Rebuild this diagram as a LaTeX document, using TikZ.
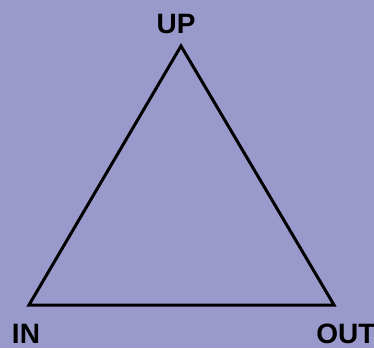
\documentclass[tikz,border=0pt]{standalone}
\usepackage{fontspec}
\setsansfont{Liberation Sans}
\usetikzlibrary{positioning}
\definecolor{bgLavender}{HTML}{9999CC}
\tikzset{
  corner label/.style={font=\sffamily\bfseries\fontsize{28}{28}\selectfont,
    text=black, inner sep=0pt},
  side/.style={line width=3pt, draw=black, line join=miter}
}
\begin{document}
\begin{tikzpicture}[x=1pt,y=1pt]
  \fill[bgLavender] (0,0) rectangle (374,348);
  \useasboundingbox (0,0) rectangle (374,348);
  % corners of the triangle
  \coordinate (up) at (181,302);
  \coordinate (in) at (29,43);
  \coordinate (out) at (334,43);
  \node[corner label] (upLabel) at (176,324) {UP};
  \node[corner label] (inLabel) at (26,14) {IN};
  \node[corner label] (outLabel) at (346,14) {OUT};
  \draw[side] (up) -- (out) -- (in) -- cycle;
\end{tikzpicture}
\end{document}
